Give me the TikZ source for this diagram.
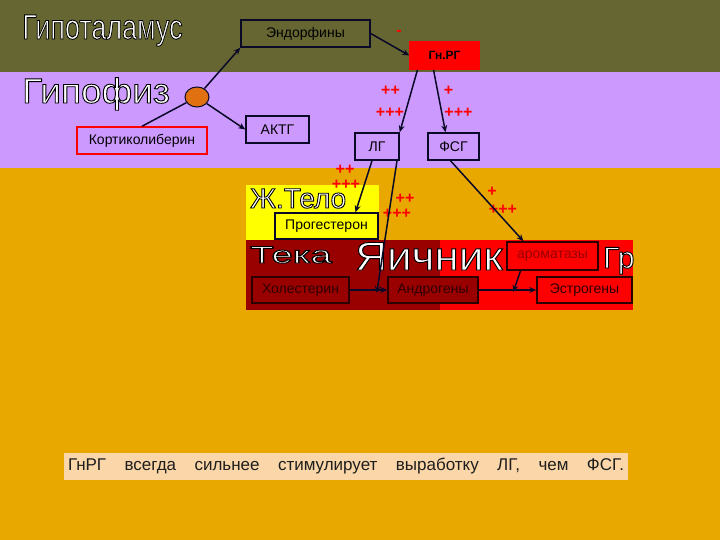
\documentclass[tikz,border=0pt]{standalone}
\usepackage{fontspec}
\setmainfont{Liberation Sans}
\usepackage{graphicx}
\usetikzlibrary{calc,arrows.meta,shapes.geometric}

\definecolor{bandolive}{RGB}{102,102,51}
\definecolor{bandlilac}{RGB}{204,153,255}
\definecolor{bandgold}{RGB}{232,168,0}
\definecolor{bodyyellow}{RGB}{255,255,0}
\definecolor{tecared}{RGB}{153,0,0}
\definecolor{granred}{RGB}{255,0,0}
\definecolor{notepeach}{RGB}{250,214,168}
\definecolor{huborange}{RGB}{224,112,16}
\definecolor{boxline}{RGB}{10,10,40}
\definecolor{dimtext}{RGB}{45,0,0}

% white letters with a thin black edge
\newcommand\outlined[1]{{\color{white}\special{pdf:literal direct 0 0 0 RG 0.9 w 2 Tr}#1\special{pdf:literal direct 0 Tr}}}

\tikzset{
  box/.style={draw=boxline, line width=1.5pt, inner sep=0pt, minimum height=27pt,
    font=\fontsize{14}{16}\selectfont},
  ovbox/.style={box, draw=dimtext, text=dimtext, minimum height=26pt},
  plus/.style={text=red, inner sep=0pt, font=\bfseries\fontsize{16}{16}\selectfont},
  title/.style={inner sep=0pt, anchor=base west},
  link/.style={line width=1.5pt, draw=boxline},
  arr/.style={link, -{Stealth[length=7pt,width=6pt]}},
}

\begin{document}
\begin{tikzpicture}[x=1pt,y=-1pt]
    \useasboundingbox (0,0) rectangle (720,540);

    % bands
    \fill[bandolive] (0,0) rectangle (720,72);
    \fill[bandlilac] (0,72) rectangle (720,168);
    \fill[bandgold] (0,168) rectangle (720,540);
    \fill[bodyyellow] (246,185) rectangle (379,240);
    \fill[tecared] (246,240) rectangle (440,310);
    \fill[granred] (440,240) rectangle (633,310);

    % titles
    \node[title] (hypoth) at (22,39) {\fontsize{35}{35}\selectfont\scalebox{0.77}[1]{\outlined{Гипоталамус}}};
    \node[title] (hypoph) at (22,103) {\fontsize{35}{35}\selectfont\scalebox{1.06}[1]{\outlined{Гипофиз}}};
    \node[title] (zhtelo) at (250,208) {\fontsize{28}{28}\selectfont\outlined{Ж.Тело}};
    \node[title] (teka) at (250,263) {\fontsize{24}{24}\selectfont\scalebox{1.6}[1]{\outlined{Тека}}};
    \node[title] (ovary) at (355,270) {\fontsize{40}{40}\selectfont\scalebox{1.1}[1]{\outlined{Яичник}}};
    \node[title] (gran) at (603,268) {\fontsize{30}{30}\selectfont\outlined{Гр}};

    % boxes
    \node[box, fill=bandolive, minimum width=129pt] (endo) at (305.5,33.5) {Эндорфины};
    \node[box, draw=granred, fill=granred, minimum width=69pt,
      font=\bfseries\fontsize{12}{14}\selectfont] (gnrg) at (444.5,55.5) {Гн.РГ};
    \node[box, draw=red, fill=bandlilac, minimum width=130pt] (korti) at (142,140.5) {Кортиколиберин};
    \node[box, fill=bandlilac, minimum width=63pt] (akth) at (277.5,129.5) {АКТГ};
    \node[box, fill=bandlilac, minimum width=44pt] (lg) at (377,146.5) {ЛГ};
    \node[box, fill=bandlilac, minimum width=51pt] (fsg) at (453.5,146.5) {ФСГ};
    \node[draw=boxline, line width=1pt, fill=huborange, ellipse, minimum width=24pt,
      minimum height=20pt, inner sep=0pt] (hub) at (197,97) {};
    \node[box, fill=bodyyellow, minimum width=103pt, minimum height=26pt] (prog) at (326.5,226) {Прогестерон};
    \node[ovbox, fill=tecared, minimum width=97pt] (chol) at (300.5,290) {Холестерин};
    \node[ovbox, fill=tecared, minimum width=90pt] (andr) at (433,290) {Андрогены};
    \node[ovbox, fill=granred, minimum width=95pt] (estr) at (584.5,290) {Эстрогены};
    \node[ovbox, fill=granred, minimum width=91pt, minimum height=28pt,
      text=tecared] (arom) at (552.5,256) {ароматазы};

    % plus / minus marks
    \node[plus] (m1) at (399,33) {-};
    \node[plus] (p1) at (390.5,91) {++};
    \node[plus] (p2) at (390,113) {+++};
    \node[plus] (p3) at (448.5,91) {+};
    \node[plus] (p4) at (458.5,113) {+++};
    \node[plus] (p5) at (345,170) {++};
    \node[plus] (p6) at (346,185) {+++};
    \node[plus] (p7) at (405,199) {++};
    \node[plus] (p8) at (397,214) {+++};
    \node[plus] (p9) at (492,192) {+};
    \node[plus] (p10) at (503,210) {+++};

    % connectors
    \coordinate (thmid) at ($(chol.east)!0.72!(andr.west)$);
    \coordinate (grmid) at ($(andr.east)!0.6!(estr.west)$);
    \draw[link] (korti.north) -- (hub);
    \draw[arr] (hub) -- (endo.south west);
    \draw[arr] (hub) -- (akth.west);
    \draw[arr] (endo.east) -- (gnrg.west);
    \draw[arr] ([xshift=-27pt]gnrg.south) -- (lg.north east);
    \draw[arr] ([xshift=-11pt]gnrg.south) -- ([xshift=-8pt]fsg.north);
    \draw[arr] ([xshift=-5pt]lg.south) -- ([xshift=29pt]prog.north);
    \draw[arr] ([xshift=20pt]lg.south) -- ([yshift=-3pt]thmid);
    \draw[arr] ([xshift=-3pt]fsg.south) -- ([xshift=-29pt]arom.north);
    \draw[arr] (chol.east) -- (andr.west);
    \draw[arr] (andr.east) -- (estr.west);
    \draw[arr] ([xshift=-32pt]arom.south) -- ([yshift=-2pt]grmid);

    % note
    \node[fill=notepeach, minimum width=564pt, minimum height=27pt, inner sep=0pt,
      text={rgb,255:red,30;green,30;blue,30}] (note) at (346,466.5)
      {\fontsize{17}{19}\selectfont\makebox[556pt][s]{ГнРГ всегда сильнее стимулирует выработку ЛГ, чем ФСГ.}};
\end{tikzpicture}
\end{document}
